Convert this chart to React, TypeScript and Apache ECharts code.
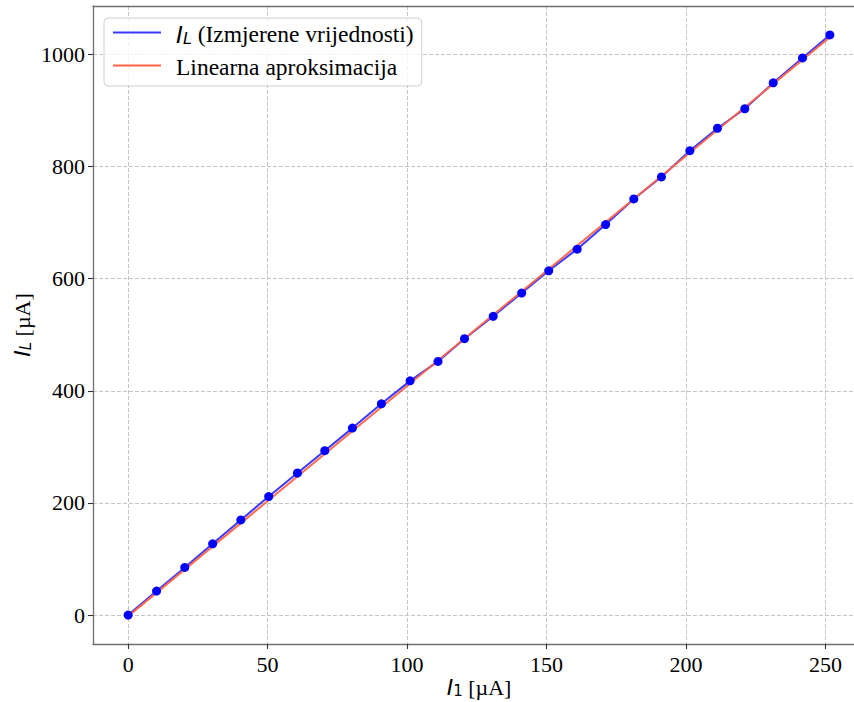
import React, { useEffect, useRef } from "react";
import * as echarts from "echarts";

// I1 values [µA] (x) and measured IL values [µA] (y)
const currentI1 = [0, 10.2, 20.3, 30.3, 40.4, 50.4, 60.7, 70.5, 80.4, 90.8, 101.1, 111.1, 120.6, 130.9, 141.1, 150.8, 161.0, 171.2, 181.3, 191.2, 201.4, 211.3, 221.1, 231.3, 241.8, 251.6];
const measuredIL = [0, 42.7, 84.9, 127, 169.7, 211.3, 253.4, 293.2, 333.5, 376.9, 417.8, 452.5, 493, 533, 574.5, 614.2, 652.8, 696.7, 742.4, 781.6, 828.5, 868.5, 903.3, 949.5, 994, 1034.9];
// Linear approximation endpoints
const fitI1 = [0, 251.6];
const fitIL = [-2, 1031];
// Tick labels
const xTicks = [0, 50, 100, 150, 200, 250];
const yTicks = [0, 200, 400, 600, 800, 1000];

const SERIF = "'Liberation Serif', 'Times New Roman', serif";
const SANS = "'DejaVu Sans', sans-serif";

const makeRich = (size: number, sub: number, lh: number) => ({
  i: { fontFamily: SANS, fontStyle: "italic", fontSize: size, lineHeight: lh, color: "#000", verticalAlign: "bottom" },
  s: { fontFamily: SANS, fontStyle: "italic", fontSize: sub, lineHeight: sub, color: "#000", verticalAlign: "bottom" },
  n: { fontFamily: SANS, fontStyle: "normal", fontSize: sub, lineHeight: sub, color: "#000", verticalAlign: "bottom" },
  t: { fontFamily: SERIF, fontSize: size, lineHeight: lh, color: "#000", verticalAlign: "bottom" },
});
const axisRich = makeRich(22, 15, 26);
const legendRich = makeRich(23.5, 16, 27);

export default function App() {
  const ref = useRef<HTMLDivElement>(null);
  useEffect(() => {
    document.body.style.margin = "0";
    const chart = echarts.init(ref.current!, null, { renderer: "svg" });
    const gridLine = { show: true, lineStyle: { color: "#c4c4c4", type: [4, 2], width: 1 } };
    const measured = currentI1.map((x, i) => [x, measuredIL[i]]);
    const fit = fitI1.map((x, i) => [x, fitIL[i]]);
    const plain = (v: number) => String(v);
    chart.setOption({
      animation: false,
      backgroundColor: "#fff",
      grid: { left: 93, top: 6, width: 772, height: 638, containLabel: false, outerBoundsMode: "none" },
      legend: {
        orient: "vertical",
        left: 104,
        top: 18,
        data: [
          { name: "IL", icon: "rect" },
          { name: "fit", icon: "rect" },
        ],
        itemWidth: 48,
        itemHeight: 2,
        itemGap: 9,
        padding: [4, 8, 7, 9],
        borderColor: "#d0d0d0",
        borderWidth: 1,
        borderRadius: 4,
        backgroundColor: "rgba(255,255,255,0.8)",
        formatter: (name: string) =>
          name === "IL" ? "{i|I}{s|L}{t| (Izmjerene vrijednosti)}" : "{t|Linearna aproksimacija}",
        textStyle: { padding: [0, 0, 0, 10], rich: legendRich },
      },
      xAxis: [
        {
          type: "value",
          min: -12.6,
          max: 264.2,
          position: "bottom",
          name: "{i|I}{n|1}{t| [µA]}",
          nameLocation: "middle",
          nameGap: 28,
          nameMoveOverlap: false,
          nameTextStyle: { rich: axisRich },
          axisLine: { show: true, onZero: false, lineStyle: { color: "#6f6f6f", width: 1.3 } },
          axisTick: { show: true, customValues: xTicks, length: 5, lineStyle: { color: "#333", width: 1.1 } },
          axisLabel: { customValues: xTicks, formatter: plain, fontFamily: SERIF, fontSize: 22, color: "#000", margin: 9 },
          splitLine: gridLine,
        },
        {
          type: "value",
          min: -12.6,
          max: 264.2,
          position: "top",
          axisLine: { show: true, onZero: false, lineStyle: { color: "#6f6f6f", width: 1.3 } },
          axisTick: { show: false },
          axisLabel: { show: false },
          splitLine: { show: false },
        },
      ],
      yAxis: {
        type: "value",
        min: -51.7,
        max: 1086.6,
        name: "{i|I}{s|L}{t| [µA]}",
        nameLocation: "middle",
        nameGap: 60,
        nameMoveOverlap: false,
        nameTextStyle: { rich: axisRich },
        axisLine: { show: true, onZero: false, lineStyle: { color: "#6f6f6f", width: 1.3 } },
        axisTick: { show: true, customValues: yTicks, length: 5, lineStyle: { color: "#333", width: 1.1 } },
        axisLabel: { customValues: yTicks, formatter: plain, fontFamily: SERIF, fontSize: 22, color: "#000", margin: 8 },
        splitLine: gridLine,
      },
      series: [
        {
          name: "IL",
          type: "line",
          data: measured,
          symbol: "none",
          color: "#3a3aff",
          lineStyle: { color: "#3a3aff", width: 2 },
          z: 2,
        },
        {
          name: "fit",
          type: "line",
          data: fit,
          symbol: "none",
          color: "#ff6347",
          lineStyle: { color: "#ff6347", width: 2, opacity: 0.95 },
          z: 3,
        },
        {
          name: "points",
          type: "scatter",
          data: measured,
          symbol: "circle",
          symbolSize: 9,
          itemStyle: { color: "#0000ff", opacity: 1 },
          z: 4,
        },
      ],
    });
    return () => chart.dispose();
  }, []);
  return <div ref={ref} style={{ width: 854, height: 702 }} />;
}
